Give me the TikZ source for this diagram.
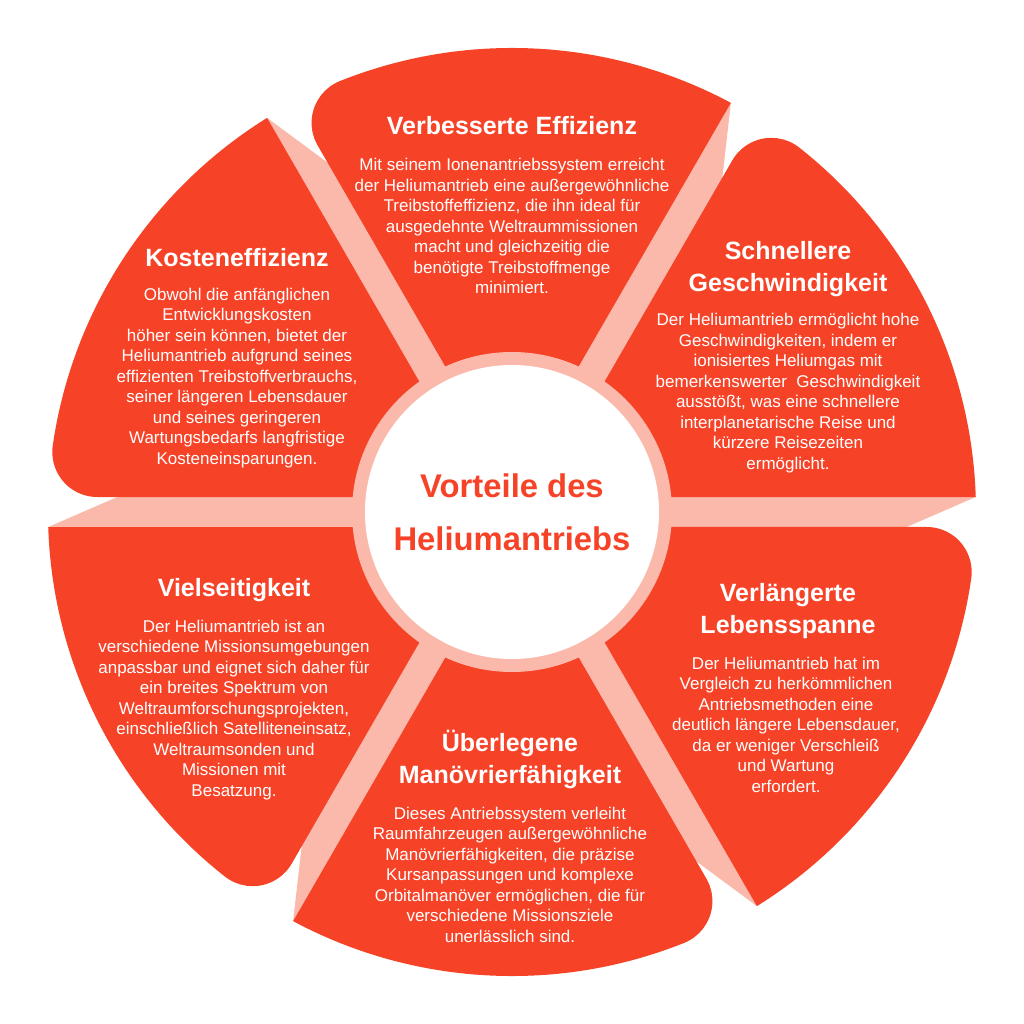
\documentclass[tikz,border=0pt]{standalone}
\usepackage{fontspec}
\setmainfont{Liberation Sans}
\definecolor{segred}{RGB}{246,67,40}
\definecolor{segpink}{RGB}{250,185,171}
\tikzset{
  titeltext/.style={text=white, align=center, inner sep=0pt,
    font=\bfseries\fontsize{25bp}{32bp}\selectfont},
  fliesstext/.style={text=white, align=center, inner sep=0pt,
    font=\fontsize{17bp}{20.5bp}\selectfont},
}
\begin{document}
\begin{tikzpicture}[x=1bp, y=1bp]
    \def\R{464}
    \def\rund{45}

    \fill[white] (-512,-512) rectangle (512,512);
    \useasboundingbox (-512,-512) rectangle (512,512);

    % rosa Schatten
    \begin{scope}[rotate=0]
    \fill[segpink] (463.76,15) -- (294.2,-58.6) -- (0,0) -- (0,15) -- cycle;
    \end{scope}
    \begin{scope}[rotate=60]
    \fill[segpink] (463.76,15) -- (294.2,-58.6) -- (0,0) -- (0,15) -- cycle;
    \end{scope}
    \begin{scope}[rotate=120]
    \fill[segpink] (463.76,15) -- (294.2,-58.6) -- (0,0) -- (0,15) -- cycle;
    \end{scope}
    \begin{scope}[rotate=180]
    \fill[segpink] (463.76,15) -- (294.2,-58.6) -- (0,0) -- (0,15) -- cycle;
    \end{scope}
    \begin{scope}[rotate=240]
    \fill[segpink] (463.76,15) -- (294.2,-58.6) -- (0,0) -- (0,15) -- cycle;
    \end{scope}
    \begin{scope}[rotate=300]
    \fill[segpink] (463.76,15) -- (294.2,-58.6) -- (0,0) -- (0,15) -- cycle;
    \end{scope}

    % rote Segmente
    \begin{scope}[rotate=0]
    \fill[segred] (25.98,15) -- (463.76,15) arc[start angle=1.85, end angle=51.77, radius=\R]
      arc[start angle=51.77, end angle=150, radius=\rund] -- cycle;
    \end{scope}
    \begin{scope}[rotate=60]
    \fill[segred] (25.98,15) -- (463.76,15) arc[start angle=1.85, end angle=51.77, radius=\R]
      arc[start angle=51.77, end angle=150, radius=\rund] -- cycle;
    \end{scope}
    \begin{scope}[rotate=120]
    \fill[segred] (25.98,15) -- (463.76,15) arc[start angle=1.85, end angle=51.77, radius=\R]
      arc[start angle=51.77, end angle=150, radius=\rund] -- cycle;
    \end{scope}
    \begin{scope}[rotate=180]
    \fill[segred] (25.98,15) -- (463.76,15) arc[start angle=1.85, end angle=51.77, radius=\R]
      arc[start angle=51.77, end angle=150, radius=\rund] -- cycle;
    \end{scope}
    \begin{scope}[rotate=240]
    \fill[segred] (25.98,15) -- (463.76,15) arc[start angle=1.85, end angle=51.77, radius=\R]
      arc[start angle=51.77, end angle=150, radius=\rund] -- cycle;
    \end{scope}
    \begin{scope}[rotate=300]
    \fill[segred] (25.98,15) -- (463.76,15) arc[start angle=1.85, end angle=51.77, radius=\R]
      arc[start angle=51.77, end angle=150, radius=\rund] -- cycle;
    \end{scope}

    % Mitte
    \fill[segpink] (0,0) circle[radius=160];
    \node[circle, fill=white, minimum size=294bp, inner sep=0pt, align=center,
      text=segred, font=\bfseries\fontsize{32.8bp}{53bp}\selectfont] (mitte) at (0,0)
      {Vorteile des\\Heliumantriebs};

    % Texte
    \node[titeltext] (effTitel) at (0,386) {Verbesserte Effizienz};
    \node[fliesstext] (effText) at (0,286) {Mit seinem Ionenantriebssystem erreicht\\
      der Heliumantrieb eine außergewöhnliche\\Treibstoffeffizienz, die ihn ideal für\\
      ausgedehnte Weltraummissionen\\macht und gleichzeitig die\\
      benötigte Treibstoffmenge\\minimiert.};

    \node[titeltext] (kostTitel) at (-275,254) {Kosteneffizienz};
    \node[fliesstext] (kostText) at (-275,134) {Obwohl die anfänglichen\\
      Entwicklungskosten\\höher sein können, bietet der\\Heliumantrieb aufgrund seines\\
      effizienten Treibstoffverbrauchs,\\seiner längeren Lebensdauer\\
      und seines geringeren\\Wartungsbedarfs langfristige\\Kosteneinsparungen.};

    \node[titeltext] (schnTitel) at (276,243) {Schnellere\\Geschwindigkeit};
    \node[fliesstext] (schnText) at (276,119) {Der Heliumantrieb ermöglicht hohe\\
      Geschwindigkeiten, indem er\\ionisiertes Heliumgas mit\\
      bemerkenswerter\ \ Geschwindigkeit\\ausstößt, was eine schnellere\\
      interplanetarische Reise und\\kürzere Reisezeiten\\ermöglicht.};

    \node[titeltext] (lebTitel) at (276,-99) {Verlängerte\\Lebensspanne};
    \node[fliesstext] (lebText) at (274,-212.5) {Der Heliumantrieb hat im\\
      Vergleich zu herkömmlichen\\Antriebsmethoden eine\\
      deutlich längere Lebensdauer,\\da er weniger Verschleiß\\
      und Wartung\\erfordert.};

    \node[titeltext] (manTitel) at (-2,-247) {Überlegene\\Manövrierfähigkeit};
    \node[fliesstext] (manText) at (-2,-362.5) {Dieses Antriebssystem verleiht\\
      Raumfahrzeugen außergewöhnliche\\Manövrierfähigkeiten, die präzise\\
      Kursanpassungen und komplexe\\Orbitalmanöver ermöglichen, die für\\
      verschiedene Missionsziele\\unerlässlich sind.};

    \node[titeltext] (vielTitel) at (-278,-78) {Vielseitigkeit};
    \node[fliesstext] (vielText) at (-278,-198) {Der Heliumantrieb ist an\\
      verschiedene Missionsumgebungen\\anpassbar und eignet sich daher für\\
      ein breites Spektrum von\\Weltraumforschungsprojekten,\\
      einschließlich Satelliteneinsatz,\\Weltraumsonden und\\
      Missionen mit\\Besatzung.};
\end{tikzpicture}
\end{document}
